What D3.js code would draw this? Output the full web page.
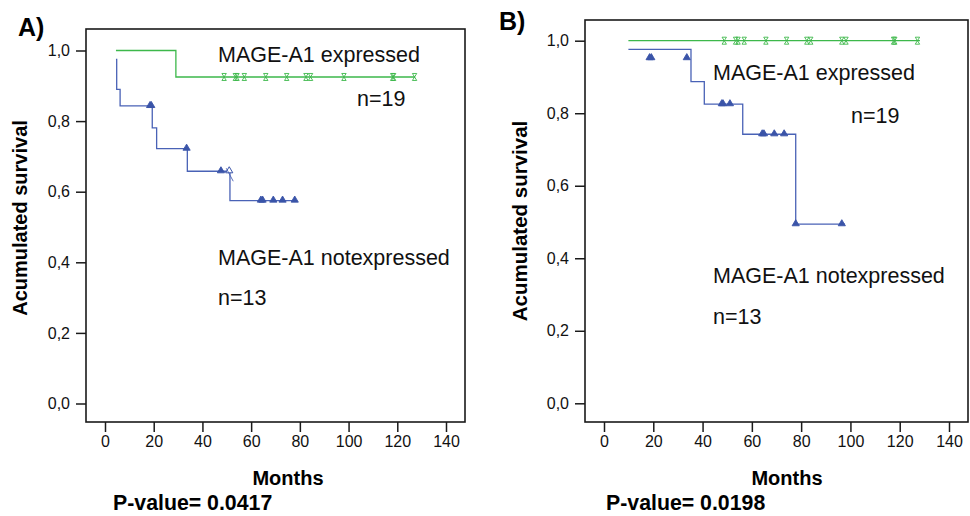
<!DOCTYPE html>
<html>
<head>
<meta charset="utf-8">
<script src="https://cdn.jsdelivr.net/npm/d3@7"></script>
<style>
  body { margin: 0; background: #fff; }
  svg { display: block; font-family: "Liberation Sans", Arial, sans-serif; }
</style>
</head>
<body>
<div id="svgcontainer"></div>
<script>
/**------------------------------------------------------------------------
 *                           DATA
 *------------------------------------------------------------------------**/
const x_ticks = [0, 20, 40, 60, 80, 100, 120, 140]
const y_ticks = [0, 0.2, 0.4, 0.6, 0.8, 1.0]
const y_tick_labels = ['0,0', '0,2', '0,4', '0,6', '0,8', '1,0']

// panel A : step curves (time in months, accumulated survival)
const a_expr_times = [4.5, 29.1, 127.3]
const a_expr_surv = [1.0, 0.925, 0.925]
const a_expr_cens = [48.9, 53.5, 54.2, 57.2, 66.0, 74.6, 82.5, 84.4, 98.1, 118.1, 118.5, 127.1]
const a_expr_cens_surv = [0.925, 0.925, 0.925, 0.925, 0.925, 0.925, 0.925, 0.925, 0.925, 0.925, 0.925, 0.925]
const a_notexpr_times = [4.5, 4.8, 6.2, 19.4, 21.2, 33.8, 51.3, 78.0]
const a_notexpr_surv = [0.975, 0.89, 0.843, 0.781, 0.722, 0.658, 0.575, 0.575]
const a_notexpr_cens = [18.5, 19.0, 33.5, 47.6, 64.0, 64.7, 69.1, 72.9, 77.9]
const a_notexpr_cens_surv = [0.843, 0.843, 0.722, 0.658, 0.575, 0.575, 0.575, 0.575, 0.575]
const a_open_cens = [51.0]
const a_open_cens_surv = [0.658]

// panel B
const b_expr_times = [9.9, 128.2]
const b_expr_surv = [1.0, 1.0]
const b_expr_cens = [48.8, 53.4, 54.4, 56.9, 65.7, 74.1, 82.3, 83.9, 96.5, 98.2, 117.5, 118.0, 127.2]
const b_expr_cens_surv = [1, 1, 1, 1, 1, 1, 1, 1, 1, 1, 1, 1, 1]
const b_notexpr_times = [9.9, 35.3, 40.7, 56.3, 77.8, 97.8]
const b_notexpr_surv = [0.976, 0.887, 0.825, 0.742, 0.494, 0.494]
const b_notexpr_cens = [18.5, 19.2, 33.6, 47.8, 48.3, 51.1, 64.2, 64.9, 69.1, 73.1, 77.8, 96.5]
const b_notexpr_cens_surv = [0.952, 0.952, 0.952, 0.825, 0.825, 0.825, 0.742, 0.742, 0.742, 0.742, 0.494, 0.494]

const green = '#3db84b'
const blue = '#4962b6'
const blue_mark = '#3a54a8'

const panels = [
    {
        label: 'A)', label_x: 18, label_y: 36,
        frame: { left: 86, top: 29, right: 465, bottom: 422 },
        x_range: [105, 446], y_range: [403.5, 50.5],
        title_x: 20, title_y: 218, title_size: 20, months_x: 288, pvalue_x: 113,
        pvalue: 'P-value= 0.0417',
        expr: { times: a_expr_times, surv: a_expr_surv, cens: a_expr_cens, cens_surv: a_expr_cens_surv },
        notexpr: { times: a_notexpr_times, surv: a_notexpr_surv, cens: a_notexpr_cens, cens_surv: a_notexpr_cens_surv },
        open_cens: a_open_cens, open_cens_surv: a_open_cens_surv,
        notes: [
            { text: 'MAGE-A1 expressed', x: 218, y: 62 },
            { text: 'n=19', x: 357, y: 106 },
            { text: 'MAGE-A1 notexpressed', x: 218, y: 265 },
            { text: 'n=13', x: 218, y: 305 }
        ]
    },
    {
        label: 'B)', label_x: 499, label_y: 30,
        frame: { left: 585, top: 20, right: 968, bottom: 422 },
        x_range: [604, 949], y_range: [403.3, 40.7],
        title_x: 520, title_y: 221, title_size: 20.5, months_x: 787, pvalue_x: 606,
        pvalue: 'P-value= 0.0198',
        expr: { times: b_expr_times, surv: b_expr_surv, cens: b_expr_cens, cens_surv: b_expr_cens_surv },
        notexpr: { times: b_notexpr_times, surv: b_notexpr_surv, cens: b_notexpr_cens, cens_surv: b_notexpr_cens_surv },
        open_cens: [], open_cens_surv: [],
        notes: [
            { text: 'MAGE-A1 expressed', x: 713, y: 80 },
            { text: 'n=19', x: 851, y: 123 },
            { text: 'MAGE-A1 notexpressed', x: 713, y: 283 },
            { text: 'n=13', x: 713, y: 324 }
        ]
    }
]

/**------------------------------------------------------------------------
 *                           DRAW
 *------------------------------------------------------------------------**/
const svg = d3.select('#svgcontainer')
    .append('svg')
    .attr('width', 970)
    .attr('height', 516)

// hourglass-like censor mark for the green curve, triangle for the blue one
const hourglass = 'M-2.2,-3.5H2.2L-2.2,3.5H2.2Z'
const triangle = 'M0,-4.5L3.6,1.6L-3.6,1.6Z'

function draw_panel(p) {
    const g = svg.append('g')
    const x = d3.scaleLinear().domain([0, 140]).range(p.x_range)
    const y = d3.scaleLinear().domain([0, 1]).range(p.y_range)
    const f = p.frame

    // frame
    g.append('rect')
        .attr('x', f.left).attr('y', f.top)
        .attr('width', f.right - f.left).attr('height', f.bottom - f.top)
        .attr('fill', 'none').attr('stroke', '#1a1a1a').attr('stroke-width', 1.6)

    // axes
    const x_axis = d3.axisBottom(x).tickValues(x_ticks).tickSize(10).tickPadding(4)
    g.append('g')
        .attr('transform', 'translate(0,' + f.bottom + ')')
        .call(x_axis)
        .call(a => a.select('.domain').remove())

    const y_axis = d3.axisLeft(y).tickValues(y_ticks).tickSize(10).tickPadding(6)
        .tickFormat((d, i) => y_tick_labels[i])
    g.append('g')
        .attr('transform', 'translate(' + f.left + ',0)')
        .call(y_axis)
        .call(a => a.select('.domain').remove())

    g.selectAll('.tick line').attr('stroke', '#1a1a1a').attr('stroke-width', 1.5)
    g.selectAll('.tick text')
        .attr('fill', '#111')
        .style('font-size', '16px')
        .style('font-family', '"Liberation Sans", Arial, sans-serif')

    // step curves
    const step = d3.line()
        .x(d => x(d[0]))
        .y(d => y(d[1]))
        .curve(d3.curveStepAfter)

    const groups = [
        { s: p.expr, color: green, mark: hourglass, mark_fill: 'none', mark_stroke: green },
        { s: p.notexpr, color: blue, mark: triangle, mark_fill: blue_mark, mark_stroke: blue_mark }
    ]
    groups.forEach(grp => {
        const pts = grp.s.times.map((t, i) => [t, grp.s.surv[i]])
        g.append('path')
            .attr('d', step(pts))
            .attr('fill', 'none')
            .attr('stroke', grp.color)
            .attr('stroke-width', 1.3)

        g.selectAll(null)
            .data(grp.s.cens.map((t, i) => [t, grp.s.cens_surv[i]]))
            .enter()
            .append('path')
            .attr('transform', d => 'translate(' + x(d[0]) + ',' + y(d[1]) + ')')
            .attr('d', grp.mark)
            .attr('fill', grp.mark_fill)
            .attr('stroke', grp.mark_stroke)
            .attr('stroke-width', 0.9)
    })

    // open censor mark with its slash
    const open_g = g.selectAll(null)
        .data(p.open_cens.map((t, i) => [t, p.open_cens_surv[i]]))
        .enter()
        .append('g')
        .attr('transform', d => 'translate(' + x(d[0]) + ',' + y(d[1]) + ')')
    open_g.append('path')
        .attr('d', triangle)
        .attr('fill', '#fff')
        .attr('stroke', blue_mark)
        .attr('stroke-width', 1)
    open_g.append('path')
        .attr('d', 'M-3,-3L4,10')
        .attr('stroke', blue)
        .attr('stroke-width', 0.9)

    // annotations
    p.notes.forEach(n => {
        g.append('text')
            .attr('x', n.x).attr('y', n.y)
            .style('font-size', '21.5px')
            .attr('fill', '#111')
            .text(n.text)
    })

    // titles
    g.append('text')
        .attr('transform', 'translate(' + p.title_x + ',' + p.title_y + ') rotate(-90)')
        .attr('text-anchor', 'middle')
        .attr('dy', '0.35em')
        .style('font-size', p.title_size + 'px')
        .style('font-weight', 'bold')
        .text('Acumulated survival')

    g.append('text')
        .attr('x', p.months_x).attr('y', 485)
        .attr('text-anchor', 'middle')
        .style('font-size', '20px')
        .style('font-weight', 'bold')
        .text('Months')

    g.append('text')
        .attr('x', p.pvalue_x).attr('y', 510)
        .style('font-size', '21.3px')
        .style('font-weight', 'bold')
        .text(p.pvalue)

    g.append('text')
        .attr('x', p.label_x).attr('y', p.label_y)
        .style('font-size', '25px')
        .style('font-weight', 'bold')
        .text(p.label)
}

panels.forEach(draw_panel)
</script>
</body>
</html>
